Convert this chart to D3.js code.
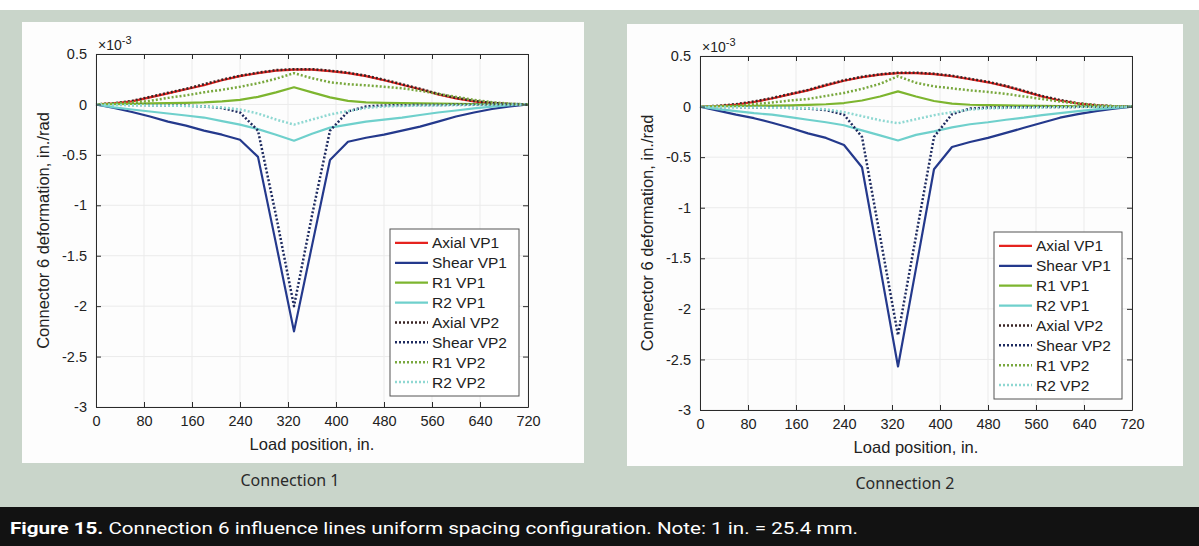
<!DOCTYPE html>
<html>
<head>
<meta charset="utf-8">
<script src="https://cdn.jsdelivr.net/npm/d3@7"></script>
<style>
  body { margin: 0; background: #fff; }
  svg { display: block; font-family: "Liberation Sans", Arial, sans-serif; }
</style>
</head>
<body>
<div id="chart"></div>
<script>
// Load positions (in.)
const loadPos = [0, 30, 60, 90, 120, 150, 180, 210, 240, 270, 300, 330, 360, 390, 420, 450, 480, 510, 540, 570, 600, 630, 660, 690, 720];

// Connection 1 values (x 10^-3 in./rad)
const c1AxialVP1 = [0, 0.01, 0.03, 0.07, 0.11, 0.15, 0.19, 0.24, 0.28, 0.31, 0.335, 0.345, 0.345, 0.33, 0.31, 0.28, 0.24, 0.195, 0.15, 0.1, 0.06, 0.03, 0.01, 0.003, 0];
const c1ShearVP1 = [0, -0.035, -0.075, -0.12, -0.17, -0.21, -0.26, -0.3, -0.35, -0.52, -1.38, -2.25, -1.4, -0.55, -0.37, -0.33, -0.3, -0.26, -0.22, -0.17, -0.12, -0.08, -0.045, -0.02, 0];
const c1R1VP1 = [0, 0.003, 0.006, 0.01, 0.012, 0.015, 0.02, 0.03, 0.045, 0.075, 0.12, 0.17, 0.12, 0.07, 0.035, 0.02, 0.015, 0.012, 0.01, 0.008, 0.006, 0.004, 0.002, 0.001, 0];
const c1R2VP1 = [0, -0.03, -0.05, -0.07, -0.09, -0.11, -0.13, -0.165, -0.2, -0.245, -0.3, -0.36, -0.29, -0.23, -0.2, -0.17, -0.15, -0.13, -0.105, -0.08, -0.06, -0.04, -0.022, -0.008, 0];
const c1AxialVP2 = [0, 0.012, 0.035, 0.075, 0.115, 0.155, 0.2, 0.245, 0.285, 0.315, 0.34, 0.35, 0.35, 0.335, 0.315, 0.285, 0.245, 0.2, 0.155, 0.105, 0.065, 0.035, 0.015, 0.005, 0];
const c1ShearVP2 = [0, -0.003, -0.005, -0.007, -0.01, -0.012, -0.02, -0.035, -0.08, -0.26, -1.1, -2.0, -1.1, -0.26, -0.07, -0.02, -0.01, -0.008, -0.006, -0.005, -0.004, -0.003, -0.002, -0.001, 0];
const c1R1VP2 = [0, 0.01, 0.02, 0.035, 0.065, 0.09, 0.12, 0.145, 0.175, 0.21, 0.255, 0.31, 0.26, 0.22, 0.2, 0.19, 0.175, 0.16, 0.135, 0.105, 0.075, 0.045, 0.022, 0.008, 0];
const c1R2VP2 = [0, -0.005, -0.008, -0.01, -0.012, -0.015, -0.02, -0.03, -0.05, -0.09, -0.15, -0.2, -0.15, -0.1, -0.065, -0.035, -0.02, -0.015, -0.012, -0.01, -0.008, -0.006, -0.004, -0.002, 0];

// Connection 2 values (x 10^-3 in./rad)
const c2AxialVP1 = [0, 0.005, 0.02, 0.045, 0.08, 0.12, 0.16, 0.21, 0.255, 0.29, 0.315, 0.33, 0.33, 0.32, 0.3, 0.27, 0.24, 0.2, 0.15, 0.1, 0.06, 0.03, 0.012, 0.003, 0];
const c2ShearVP1 = [0, -0.04, -0.08, -0.115, -0.16, -0.21, -0.265, -0.31, -0.38, -0.6, -1.58, -2.57, -1.6, -0.62, -0.4, -0.35, -0.31, -0.26, -0.21, -0.16, -0.11, -0.075, -0.045, -0.02, 0];
const c2R1VP1 = [0, 0.003, 0.005, 0.008, 0.01, 0.012, 0.016, 0.023, 0.035, 0.06, 0.1, 0.15, 0.1, 0.055, 0.03, 0.018, 0.014, 0.011, 0.009, 0.007, 0.005, 0.003, 0.002, 0.001, 0];
const c2R2VP1 = [0, -0.025, -0.045, -0.065, -0.08, -0.105, -0.13, -0.155, -0.185, -0.235, -0.285, -0.335, -0.28, -0.245, -0.205, -0.175, -0.155, -0.13, -0.11, -0.085, -0.065, -0.045, -0.028, -0.012, 0];
const c2AxialVP2 = [0, 0.007, 0.024, 0.05, 0.085, 0.125, 0.165, 0.215, 0.26, 0.295, 0.32, 0.335, 0.335, 0.325, 0.305, 0.275, 0.245, 0.205, 0.155, 0.105, 0.065, 0.033, 0.014, 0.004, 0];
const c2ShearVP2 = [0, -0.003, -0.005, -0.008, -0.01, -0.013, -0.02, -0.035, -0.08, -0.3, -1.28, -2.26, -1.28, -0.3, -0.075, -0.02, -0.01, -0.008, -0.006, -0.005, -0.004, -0.003, -0.002, -0.001, 0];
const c2R1VP2 = [0, 0.003, 0.01, 0.025, 0.04, 0.06, 0.075, 0.105, 0.135, 0.175, 0.225, 0.3, 0.235, 0.2, 0.18, 0.16, 0.145, 0.125, 0.1, 0.075, 0.05, 0.03, 0.013, 0.004, 0];
const c2R2VP2 = [0, -0.004, -0.007, -0.009, -0.011, -0.013, -0.018, -0.027, -0.055, -0.095, -0.135, -0.165, -0.125, -0.085, -0.055, -0.03, -0.018, -0.013, -0.011, -0.009, -0.007, -0.005, -0.003, -0.002, 0];

// Series labels and ticks
const seriesNames = ["Axial VP1", "Shear VP1", "R1 VP1", "R2 VP1", "Axial VP2", "Shear VP2", "R1 VP2", "R2 VP2"];
const xTicks = [0, 80, 160, 240, 320, 400, 480, 560, 640, 720];
const yTicks = [0.5, 0, -0.5, -1, -1.5, -2, -2.5, -3];
const panelTitles = ["Connection 1", "Connection 2"];
const captionBold = "Figure 15.";
const captionText = " Connection 6 influence lines uniform spacing configuration. Note: 1 in. = 25.4 mm.";

// Line styles
const seriesColors = ["#e5231f", "#24398c", "#7db52f", "#6fd0cc", "#3a2424", "#1e2b60", "#79a83e", "#8fd8d2"];
const seriesDash = [null, null, null, null, "2,2", "2,2", "2,2", "2,2"];

const W = 1199, H = 546;

const svg = d3.select("#chart")
  .append("svg")
  .attr("width", W)
  .attr("height", H);

// Page background
svg.append("rect").attr("x", 0).attr("y", 10).attr("width", W).attr("height", 498).attr("fill", "#c9d5ca");
svg.append("rect").attr("x", 0).attr("y", 507).attr("width", W).attr("height", H - 507).attr("fill", "#121212");

const panels = [
  { box: [22, 22, 584, 463], left: 96, right: 528, top: 54, bottom: 407,
    legend: [390, 229, 519, 396], title: [290, 486],
    series: [c1AxialVP1, c1ShearVP1, c1R1VP1, c1R2VP1, c1AxialVP2, c1ShearVP2, c1R1VP2, c1R2VP2] },
  { box: [627, 24, 1183, 466], left: 700, right: 1132, top: 56, bottom: 410,
    legend: [994, 232, 1122, 399], title: [905, 489],
    series: [c2AxialVP1, c2ShearVP1, c2R1VP1, c2R2VP1, c2AxialVP2, c2ShearVP2, c2R1VP2, c2R2VP2] }
];

panels.forEach((p, pi) => drawPanel(p, pi));

function drawPanel(p, pi) {
  const g = svg.append("g");

  // white figure box
  g.append("rect")
    .attr("x", p.box[0]).attr("y", p.box[1])
    .attr("width", p.box[2] - p.box[0]).attr("height", p.box[3] - p.box[1])
    .attr("fill", "#fdfdfd");

  const x = d3.scaleLinear().domain([0, 720]).range([p.left, p.right]);
  const y = d3.scaleLinear().domain([-3, 0.5]).range([p.bottom, p.top]);

  // grid
  g.append("g").selectAll("line").data(xTicks).join("line")
    .attr("x1", d => x(d)).attr("x2", d => x(d))
    .attr("y1", p.top).attr("y2", p.bottom)
    .attr("stroke", "#ebebeb").attr("stroke-width", 1);
  g.append("g").selectAll("line").data(yTicks).join("line")
    .attr("x1", p.left).attr("x2", p.right)
    .attr("y1", d => y(d)).attr("y2", d => y(d))
    .attr("stroke", "#ebebeb").attr("stroke-width", 1);

  // series lines
  const line = d3.line()
    .x((d, i) => x(loadPos[i]))
    .y(d => y(d));

  p.series.forEach((vals, si) => {
    g.append("path")
      .datum(vals)
      .attr("fill", "none")
      .attr("stroke", seriesColors[si])
      .attr("stroke-width", si >= 4 ? 2.5 : 2.2)
      .attr("stroke-dasharray", seriesDash[si])
      .attr("stroke-linejoin", "round")
      .attr("d", line);
  });

  // axes (inward ticks on all sides)
  const axisColor = "#2a2a2a";
  const fmt = d => String(d);
  const axB = g.append("g").attr("transform", `translate(0,${p.bottom})`)
    .call(d3.axisBottom(x).tickValues(xTicks).tickFormat(fmt).tickSize(-5).tickSizeOuter(0).tickPadding(9));
  const axT = g.append("g").attr("transform", `translate(0,${p.top})`)
    .call(d3.axisTop(x).tickValues(xTicks).tickFormat("").tickSize(-5).tickSizeOuter(0));
  const axL = g.append("g").attr("transform", `translate(${p.left},0)`)
    .call(d3.axisLeft(y).tickValues(yTicks).tickFormat(fmt).tickSize(-5).tickSizeOuter(0).tickPadding(9));
  const axR = g.append("g").attr("transform", `translate(${p.right},0)`)
    .call(d3.axisRight(y).tickValues(yTicks).tickFormat("").tickSize(-5).tickSizeOuter(0));

  [axB, axT, axL, axR].forEach(a => {
    a.selectAll("path, line").attr("stroke", axisColor);
    a.selectAll("text").attr("fill", "#222").style("font-size", "14.5px")
      .style("font-family", "'Liberation Sans', Arial, sans-serif");
  });

  // exponent label
  const ex = g.append("text")
    .attr("x", p.left + 2).attr("y", p.top - 4)
    .attr("fill", "#222").style("font-size", "14px");
  ex.append("tspan").text("\u00d710");
  ex.append("tspan").attr("dy", -6).style("font-size", "11px").text("-3");

  // axis titles
  g.append("text")
    .attr("x", (p.left + p.right) / 2).attr("y", p.bottom + 43)
    .attr("text-anchor", "middle").attr("fill", "#222")
    .style("font-size", "16.5px")
    .text("Load position, in.");

  g.append("text")
    .attr("transform", `translate(${p.left - 47},${(p.top + p.bottom) / 2}) rotate(-90)`)
    .attr("text-anchor", "middle").attr("fill", "#222")
    .style("font-size", "16.5px")
    .text("Connector 6 deformation, in./rad");

  // legend
  const [lx0, ly0, lx1, ly1] = p.legend;
  g.append("rect")
    .attr("x", lx0).attr("y", ly0)
    .attr("width", lx1 - lx0).attr("height", ly1 - ly0)
    .attr("fill", "#fff").attr("stroke", "#555").attr("stroke-width", 1);
  const rowH = (ly1 - ly0 - 8) / seriesNames.length;
  seriesNames.forEach((name, si) => {
    const cy = ly0 + 4 + rowH * (si + 0.5);
    g.append("line")
      .attr("x1", lx0 + 5).attr("x2", lx0 + 38)
      .attr("y1", cy).attr("y2", cy)
      .attr("stroke", seriesColors[si])
      .attr("stroke-width", si >= 4 ? 2.4 : 2.2)
      .attr("stroke-dasharray", seriesDash[si]);
    g.append("text")
      .attr("x", lx0 + 42).attr("y", cy + 5.5)
      .attr("fill", "#222").style("font-size", "15.5px")
      .text(name);
  });

  // panel caption
  svg.append("text")
    .attr("x", p.title[0]).attr("y", p.title[1])
    .attr("text-anchor", "middle").attr("fill", "#2a2a2a")
    .style("font-family", "'Noto Sans', sans-serif")
    .style("font-size", "16px")
    .text(panelTitles[pi]);
}

// figure caption
const cap = svg.append("text")
  .attr("x", 10).attr("y", 534)
  .attr("fill", "#fff")
  .attr("textLength", 848)
  .attr("lengthAdjust", "spacingAndGlyphs")
  .style("font-family", "'Roboto', sans-serif")
  .style("font-size", "17px");
cap.append("tspan").style("font-weight", "bold").text(captionBold);
cap.append("tspan").text(captionText);
</script>
</body>
</html>
